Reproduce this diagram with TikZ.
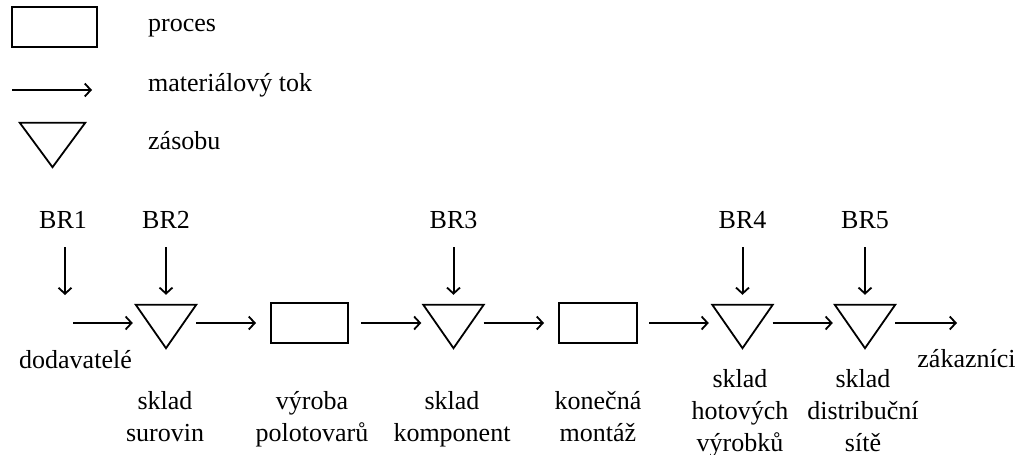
\documentclass[tikz,border=0pt]{standalone}
\usepackage{fontspec}
\setmainfont{Liberation Serif}
\usetikzlibrary{arrows.meta}

\begin{document}
\begin{tikzpicture}[x=1pt,y=-1pt,
  lbl/.style={inner sep=0pt, font=\fontsize{26}{32}\selectfont, align=center},
  procbox/.style={draw, line width=2pt, inner sep=0pt},
  stockbox/.style={inner sep=0pt, minimum width=60pt, minimum height=43pt},
  stockline/.style={draw, line width=1.8pt, line join=miter},
  flow/.style={line width=2pt, -{Straight Barb[length=6pt,width=13pt,line width=1.8pt]}}
]
\useasboundingbox (0,0) rectangle (1021,455);

% ---- legend ----
\node[procbox, minimum width=85pt, minimum height=40pt] (legproc) at (54.5,27) {};
\node[lbl, anchor=base west] (legproct) at (148,31) {proces};
\coordinate (legfa) at (12,90);
\coordinate (legfb) at (92,90);
\draw[flow] (legfa) -- (legfb);
\node[lbl, anchor=base west] (legflowt) at (148,91) {materiálový tok};
\node[stockbox, minimum width=65pt, minimum height=44pt] (legstock) at (52.5,145) {};
\draw[stockline] (legstock.north west) -- (legstock.north east) -- (legstock.south) -- cycle;
\node[lbl, anchor=base west] (legstockt) at (148,149) {zásobu};

% ---- stocks and processes ----
\node[stockbox] (s1) at (166,326.5) {};
\node[procbox, minimum width=77pt, minimum height=40pt] (r1) at (309.5,323) {};
\node[stockbox] (s2) at (453.5,326.5) {};
\node[procbox, minimum width=78pt, minimum height=40pt] (r2) at (598,323) {};
\node[stockbox] (s3) at (742.5,326.5) {};
\node[stockbox] (s4) at (865,326.5) {};
\foreach \s in {s1,s2,s3,s4}
  \draw[stockline] (\s.north west) -- (\s.north east) -- (\s.south) -- cycle;

% ---- material flow ----
\coordinate (src) at (73,323);
\coordinate (snk) at (957,323);
\draw[flow, shorten >=3pt] (src) -- (s1.west |- src);
\draw[flow, shorten >=14pt] (s1.east |- r1.west) -- (r1.west);
\draw[flow, shorten <=12pt, shorten >=2pt] (r1.east) -- (s2.west |- r1.east);
\draw[flow, shorten >=14pt] (s2.east |- r2.west) -- (r2.west);
\draw[flow, shorten <=11pt, shorten >=3.5pt] (r2.east) -- (s3.west |- r2.east);
\draw[flow, shorten >=2pt] (s3.east |- r2.east) -- (s4.west |- r2.east);
\draw[flow] (s4.east |- snk) -- (snk);

% ---- decision points ----
\node[lbl, anchor=base] (br1) at (63,228) {BR1};
\node[lbl, anchor=base] (br2) at (166,228) {BR2};
\node[lbl, anchor=base] (br3) at (453.5,228) {BR3};
\node[lbl, anchor=base] (br4) at (742.5,228) {BR4};
\node[lbl, anchor=base] (br5) at (865,228) {BR5};
\coordinate (br1end) at (65,295);
\draw[flow, shorten <=19pt] (br1.south -| br1end) -- (br1end);
\foreach \b/\s in {br2/s1,br3/s2,br4/s3,br5/s4}
  \draw[flow, shorten <=19pt, shorten >=10pt] (\b.south) -- (\s.north);

% ---- labels (base = last line) ----
\node[lbl, anchor=base] (tdod) at (75.5,368) {dodavatelé};
\node[lbl, anchor=base] (tzak) at (966.5,367) {zákazníci};
\node[lbl, anchor=base] (ts1) at (165,441) {sklad\\surovin};
\node[lbl, anchor=base] (tr1) at (312,441) {výroba\\polotovarů};
\node[lbl, anchor=base] (ts2) at (452,441) {sklad\\komponent};
\node[lbl, anchor=base] (tr2) at (598,441) {konečná\\montáž};
\node[lbl, anchor=base] (ts3) at (740,451) {sklad\\hotových\\výrobků};
\node[lbl, anchor=base] (ts4) at (863,451) {sklad\\distribuční\\sítě};
\end{tikzpicture}
\end{document}
